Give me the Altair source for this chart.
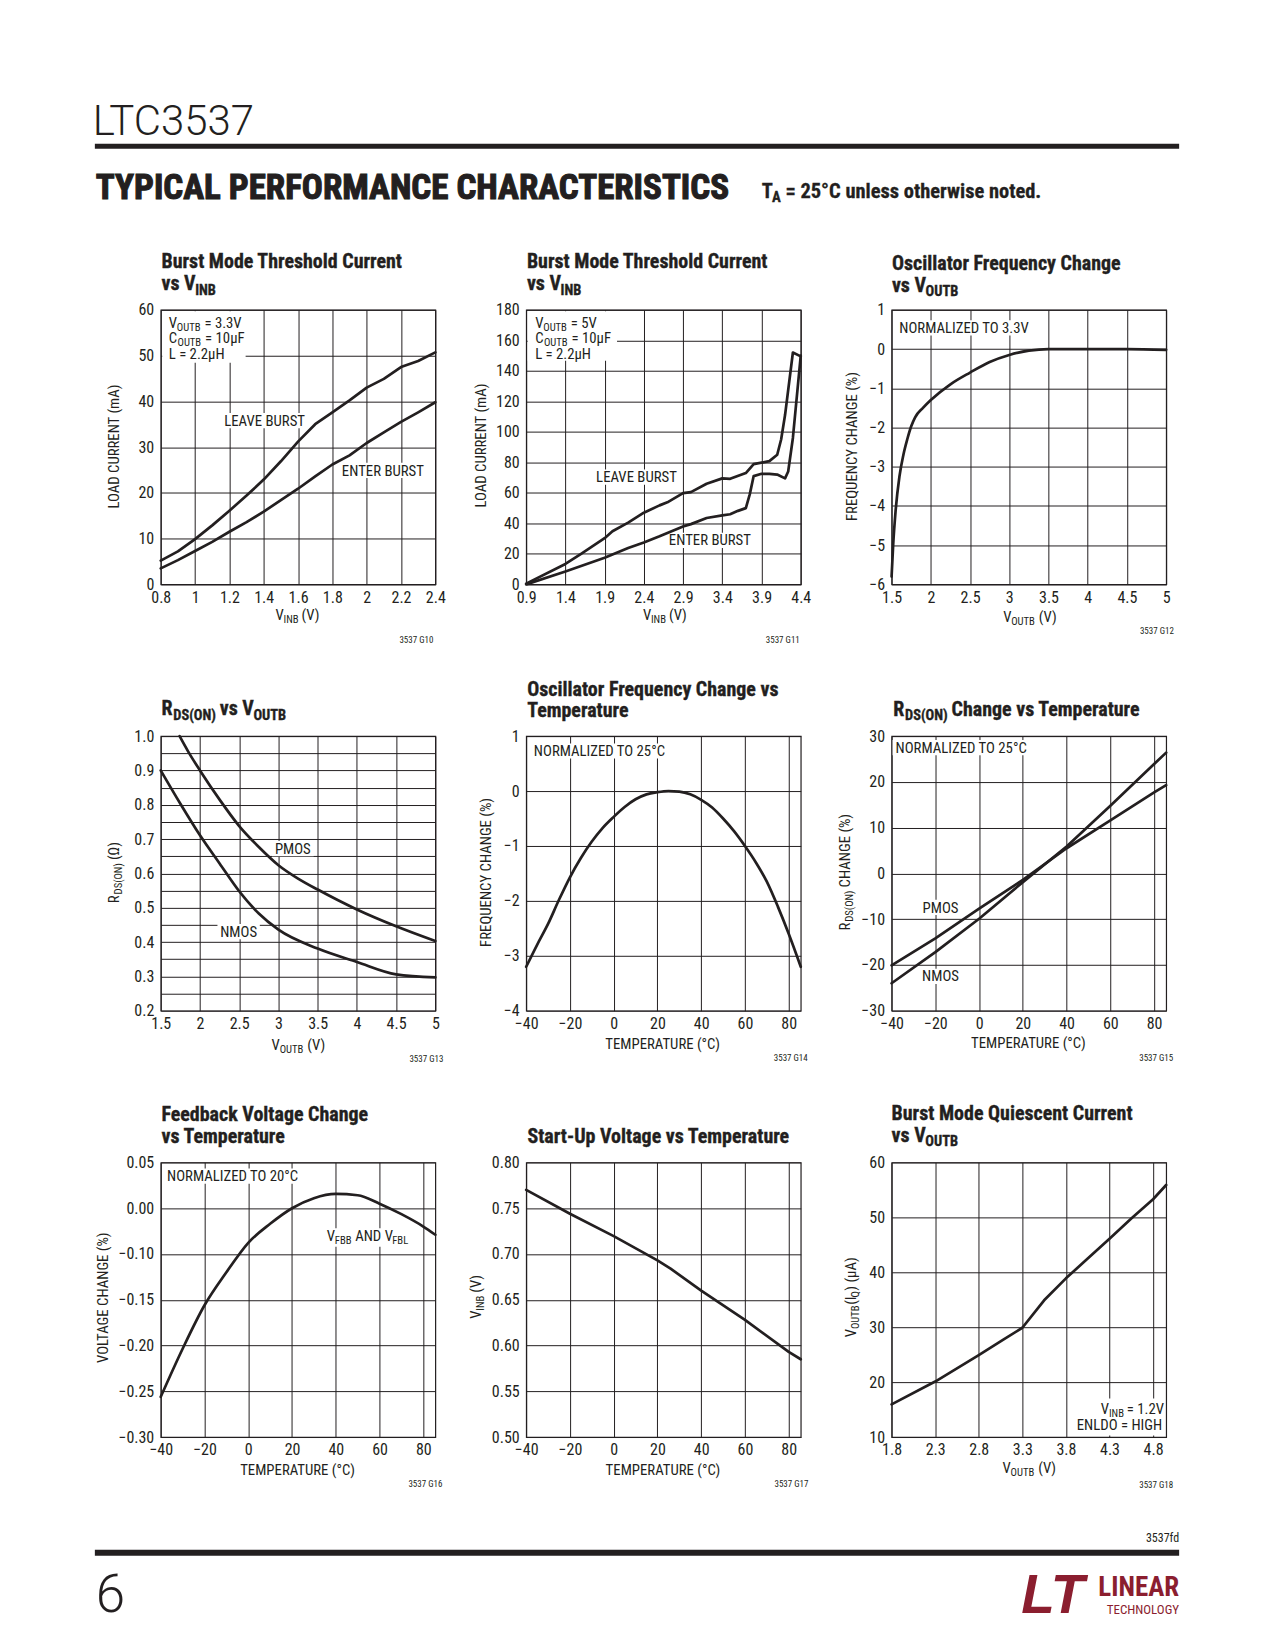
import re
import altair as alt
import pandas as pd

FONT = "Liberation Sans Narrow, Arial Narrow, Roboto Condensed, DejaVu Sans Condensed, sans-serif"
LIGHT = "Roboto, Liberation Sans, sans-serif"
INK = "#231F20"
LOGO = "#8B1E2F"
W, H = 275, 275

# ---------------- data ----------------
g10_x = [0.8, 0.9, 1.0, 1.1, 1.2, 1.3, 1.4, 1.5, 1.6, 1.7, 1.8, 1.9, 2.0, 2.1, 2.2, 2.3, 2.4]
g10_leave = [5.2, 7.2, 9.9, 12.9, 16.1, 19.4, 22.9, 26.9, 31.2, 35.0, 37.6, 40.2, 43.0, 44.9, 47.5, 48.8, 50.7]
g10_enter = [3.5, 5.3, 7.3, 9.3, 11.5, 13.6, 15.9, 18.4, 20.9, 23.6, 26.2, 28.2, 30.9, 33.2, 35.5, 37.6, 39.8]

g11_leave_x = [0.9, 1.4, 1.6, 1.9, 2.0, 2.2, 2.4, 2.6, 2.7, 2.9, 3.0, 3.2, 3.4, 3.5, 3.7, 3.8, 4.0, 4.1, 4.15, 4.2, 4.3, 4.4]
g11_leave = [0.5, 13.4, 20.0, 30.3, 34.8, 40.5, 47.0, 51.8, 53.8, 59.8, 60.5, 66.0, 69.5, 69.2, 73.0, 78.8, 80.8, 85.0, 95.0, 111.0, 152.0, 149.5]
g11_enter_x = [0.9, 1.4, 1.9, 2.2, 2.4, 2.6, 2.9, 3.0, 3.2, 3.4, 3.5, 3.6, 3.7, 3.75, 3.8, 3.9, 4.0, 4.1, 4.2, 4.24, 4.3, 4.4]
g11_enter = [0.0, 8.5, 17.5, 23.8, 27.5, 31.5, 38.0, 39.5, 43.5, 45.2, 46.0, 48.2, 50.0, 59.0, 71.0, 72.5, 72.5, 72.0, 69.5, 74.0, 96.0, 150.0]

g12_x = [1.5, 1.52, 1.55, 1.6, 1.65, 1.7, 1.75, 1.8, 1.9, 2.0, 2.25, 2.5, 2.75, 3.0, 3.25, 3.5, 4.0, 4.5, 5.0]
g12_y = [-5.8, -5.0, -4.15, -3.25, -2.7, -2.3, -1.97, -1.74, -1.5, -1.3, -0.9, -0.6, -0.33, -0.15, -0.04, 0.0, 0.0, 0.0, -0.02]

g13_pmos_x = [1.74, 1.85, 2.0, 2.25, 2.5, 2.75, 3.0, 3.25, 3.5, 4.0, 4.5, 5.0]
g13_pmos = [1.0, 0.955, 0.9, 0.815, 0.738, 0.677, 0.624, 0.585, 0.553, 0.495, 0.446, 0.403]
g13_nmos_x = [1.5, 1.75, 2.0, 2.25, 2.5, 2.75, 3.0, 3.5, 4.0, 4.5, 5.0]
g13_nmos = [0.9, 0.803, 0.711, 0.629, 0.548, 0.483, 0.436, 0.381, 0.342, 0.306, 0.297]

g14_x = [-40, -35, -30, -25, -20, -15, -10, -5, 0, 5, 10, 15, 20, 25, 30, 35, 40, 45, 50, 55, 60, 65, 70, 75, 80, 85.5]
g14_y = [-3.2, -2.8, -2.42, -1.98, -1.57, -1.22, -0.92, -0.67, -0.47, -0.29, -0.15, -0.06, -0.02, 0.0, -0.01, -0.06, -0.16, -0.3, -0.5, -0.73, -1.0, -1.3, -1.65, -2.1, -2.6, -3.2]

g15_x = [-40, -20, 0, 20, 40, 60, 80, 85.5]
g15_nmos = [-24.0, -17.2, -9.9, -1.9, 5.9, 14.8, 23.9, 26.4]
g15_pmos = [-20.1, -14.2, -7.7, -1.4, 5.5, 11.6, 17.7, 19.3]

g16_x = [-40, -30, -20, -10, 0, 10, 20, 30, 40, 50, 60, 70, 80, 85.5]
g16_y = [-0.256, -0.2035, -0.156, -0.12, -0.0756, -0.034, 0.0, 0.011, 0.0156, 0.0142, 0.005, -0.013, -0.040, -0.058]

g17_x = [-40, -20, 0, 20, 26, 40, 60, 80, 85.5]
g17_y = [0.770, 0.744, 0.7195, 0.693, 0.684, 0.660, 0.628, 0.593, 0.585]

g18_x = [1.8, 2.3, 2.8, 3.1, 3.3, 3.55, 3.8, 4.05, 4.3, 4.55, 4.8, 4.95]
g18_y = [15.95, 20.1, 24.9, 27.9, 29.9, 34.9, 38.9, 42.5, 46.1, 49.8, 53.3, 55.9]

# tick values
t_g10_x = [0.8, 1.0, 1.2, 1.4, 1.6, 1.8, 2.0, 2.2, 2.4]
t_g10_y = [0, 10, 20, 30, 40, 50, 60]
t_g11_x = [0.9, 1.4, 1.9, 2.4, 2.9, 3.4, 3.9, 4.4]
t_g11_y = [0, 20, 40, 60, 80, 100, 120, 140, 160, 180]
t_volt_x = [1.5, 2.0, 2.5, 3.0, 3.5, 4.0, 4.5, 5.0]
t_g12_y = [-6, -5, -4, -3, -2, -1, 0, 1]
t_g13_y = [0.2, 0.25, 0.3, 0.35, 0.4, 0.45, 0.5, 0.55, 0.6, 0.65, 0.7, 0.75, 0.8, 0.85, 0.9, 0.95, 1.0]
t_temp_x = [-40, -20, 0, 20, 40, 60, 80]
t_g14_y = [-4, -3, -2, -1, 0, 1]
t_g15_y = [-30, -20, -10, 0, 10, 20, 30]
t_g16_y = [-0.30, -0.25, -0.20, -0.15, -0.10, 0.00, 0.05]
t_g17_y = [0.50, 0.55, 0.60, 0.65, 0.70, 0.75, 0.80]
t_g18_x = [1.8, 2.3, 2.8, 3.3, 3.8, 4.3, 4.8]
t_g18_y = [10, 20, 30, 40, 50, 60]

# ---------------- text helpers ----------------
_REG = dict(zip("ABCDEFGHIJKLMNOPQRSTUVWXYZ", [667, 667, 722, 722, 667, 611, 778, 722, 278, 500, 667, 556, 833, 722, 778, 667, 778, 722, 667, 611, 722, 667, 944, 667, 667, 611]))
_REG.update(zip("abcdefghijklmnopqrstuvwxyz", [556, 556, 500, 556, 556, 278, 556, 556, 222, 222, 500, 222, 833, 556, 556, 556, 556, 333, 500, 278, 556, 500, 722, 500, 500, 500]))
_REG.update({c: 556 for c in "0123456789"})
_REG.update({" ": 278, "(": 333, ")": 333, ".": 278, ",": 278, "=": 584, "°": 400, "μ": 556, "Ω": 768, "-": 333, "%": 889})
_BOLD = dict(zip("ABCDEFGHIJKLMNOPQRSTUVWXYZ", [722, 722, 722, 722, 667, 611, 778, 722, 278, 556, 722, 611, 833, 722, 778, 667, 778, 722, 667, 611, 722, 667, 944, 667, 667, 611]))
_BOLD.update(zip("abcdefghijklmnopqrstuvwxyz", [556, 611, 556, 611, 556, 333, 611, 611, 278, 278, 556, 278, 889, 611, 611, 611, 611, 389, 556, 333, 611, 556, 778, 556, 556, 500]))
_BOLD.update({c: 556 for c in "0123456789"})
_BOLD.update({" ": 278, "(": 333, ")": 333, ".": 278, ",": 278, "=": 584, "°": 400, "μ": 611, "Ω": 768, "-": 333, "%": 889})
NARROW = 0.82
SUBR = 0.72
SUBOFF = 0.21
TITLE, AXT, ANN, FIG, TICK = 20, 14.8, 14.8, 9, 16

ONE = alt.InlineData(values=[{"k": 0}])


def tw(s, size, bold=False):
    t = _BOLD if bold else _REG
    return sum(t.get(c, 556) for c in s) / 1000.0 * NARROW * size


def parse(s):
    out, pos = [], 0
    for m in re.finditer(r"_\{([^}]*)\}", s):
        if m.start() > pos:
            out.append((s[pos:m.start()], False))
        out.append((m.group(1), True))
        pos = m.end()
    if pos < len(s):
        out.append((s[pos:], False))
    return out


def width(s, size, bold=False):
    return sum(tw(t, size * SUBR if sub else size, bold) for t, sub in parse(s))


def rich(s, x, y, size, bold=False, align="left", angle=0, color=INK, font=FONT, italic=False,
         weight=None, stroke=0.0):
    segs = parse(s)
    out = []

    def mk(t, sz, al, px, py):
        kw = dict(text=t, align=al, baseline="alphabetic", fontSize=round(sz, 2), font=font,
                  color=color, fontWeight=weight if weight else ("bold" if bold else "normal"))
        if angle:
            kw["angle"] = angle
        if italic:
            kw["fontStyle"] = "italic"
        if stroke:
            kw["stroke"] = color
            kw["strokeWidth"] = stroke
        return alt.Chart(ONE).mark_text(**kw).encode(x=alt.value(round(px, 2)), y=alt.value(round(py, 2)))

    if len(segs) == 1 and not segs[0][1]:
        return [mk(segs[0][0], size, align, x, y)]
    ws = [tw(t, size * SUBR if sub else size, bold) for t, sub in segs]
    total = sum(ws)
    pos = {"left": 0.0, "center": -total / 2, "right": -total}[align]
    for (t, sub), w in zip(segs, ws):
        sz = size * SUBR if sub else size
        off = size * SUBOFF if sub else 0.0
        # Vega trims text, so leading spaces become a position shift instead
        lead = len(t) - len(t.lstrip(" "))
        shift = tw(" " * lead, sz, bold)
        body = t.strip(" ")
        if body:
            if angle:
                px, py = x + off, y - (pos + shift)
            else:
                px, py = x + pos + shift, y + off
            out.append(mk(body, sz, "left", px, py))
        pos += w
    return out


def box(x0, y0, x1, y1, color="white", opacity=1.0):
    return alt.Chart(ONE).mark_rect(color=color, opacity=opacity).encode(
        x=alt.value(x0), x2=alt.value(x1), y=alt.value(y0), y2=alt.value(y1))


def label_box(s, x, y, size=ANN, align="left"):
    w = width(s, size)
    left = {"left": x, "center": x - w / 2, "right": x - w}[align]
    has_sub = any(sub for _, sub in parse(s))
    return box(left - 3, y - 0.76 * size - 1.5, left + w + 3, y + 2.5 + (SUBOFF * size if has_sub else 0))


def axis(values, fmt, pad, expr=None):
    kw = dict(values=values, format=fmt, grid=True, gridColor=INK, gridWidth=1, gridOpacity=1,
              ticks=False, domain=False, labelFont=FONT, labelFontSize=TICK, labelColor=INK,
              labelPadding=pad, labelOverlap=False, labelFlush=False, title=None)
    if expr:
        kw["labelExpr"] = expr
    return alt.Axis(**kw)


def curve(df, xdom, xvals, xfmt, ydom, yvals, yfmt, yrange=None, yexpr=None, smooth=False):
    if yrange is None:
        ys = alt.Scale(domain=ydom, nice=False, zero=False)
    else:
        ys = alt.Scale(domain=ydom, range=yrange, nice=False, zero=False)
    mk = dict(color=INK, strokeWidth=2.7, strokeJoin="round", strokeCap="round")
    if smooth:
        mk["interpolate"] = "monotone"
    return alt.Chart(df).mark_line(**mk).encode(
        x=alt.X("x:Q", scale=alt.Scale(domain=xdom, nice=False, zero=False), axis=axis(xvals, xfmt, 5)),
        y=alt.Y("y:Q", scale=ys, axis=axis(yvals, yfmt, 7, yexpr)),
        detail="s:N",
    )


def series(pairs):
    rows = []
    for name, xs, ys in pairs:
        rows += [{"x": a, "y": b, "s": name} for a, b in zip(xs, ys)]
    return pd.DataFrame(rows)


def panel(line, titles, ytitle, xtitle, fig, boxes=(), notes=(), labels=(), extra_back=(), extra_front=()):
    back = list(extra_back) + list(boxes)
    front = []
    for s, x, y, al in labels:
        back.append(label_box(s, x, y, ANN, al))
        front += rich(s, x, y, ANN, align=al)
    for s, x, y, al in notes:
        front += rich(s, x, y, ANN, align=al)
    for s, x, y in titles:
        front += rich(s, x, y, TITLE, bold=True, stroke=0.35)
    front += rich(ytitle[0], ytitle[1], ytitle[2], AXT, align="center", angle=270)
    front += rich(xtitle[0], xtitle[1], xtitle[2], AXT, align="center")
    front += rich(fig[0], fig[1], fig[2], FIG, align="right")
    front += list(extra_front)
    return alt.layer(*back, line, *front).properties(width=W, height=H)


# ---------------- page header / footer (attached to first panel) ----------------
page_back = [box(-152, -300, 1107, 1332, color="white", opacity=0)]
page_front = []
page_front += rich("LTC3537", -68, -174.7, 42, font=LIGHT, weight=300)
page_front.append(box(-66, -166.3, 1020, -161.3, color=INK))
page_front += rich("TYPICAL PERFORMANCE CHARACTERISTICS", -65, -111.3, 35, bold=True, stroke=1.1)
page_front += rich("T_{A} = 25°C unless otherwise noted.", 602, -112, 20.5, bold=True, stroke=0.3)
page_front += rich("3537fd", 1020, 1234, 12, align="right")
page_front.append(box(-66, 1242, 1020, 1248, color=INK))
page_front += rich("6", -65, 1304, 53, font=LIGHT, weight=300)
page_front += rich("LT", 925, 1305, 55, bold=True, italic=True, color=LOGO, align="right",
                   font="Liberation Sans, Arial, sans-serif")
page_front += rich("LINEAR", 1020, 1288.5, 27, bold=True, color=LOGO, align="right")
page_front += rich("TECHNOLOGY", 1020, 1306, 13, color=LOGO, align="right")

panels = []

# G10
panels.append(panel(
    curve(series([("leave", g10_x, g10_leave), ("enter", g10_x, g10_enter)]),
          [0.8, 2.4], t_g10_x, "~g", [0, 60], t_g10_y, "d"),
    titles=[("Burst Mode Threshold Current", 0.7, -42.3), ("vs V_{INB}", 0.7, -19.5)],
    ytitle=("LOAD CURRENT (mA)", -41.5, 137),
    xtitle=("V_{INB} (V)", 136, 311),
    fig=("3537 G10", 273, 334),
    boxes=[box(1.5, 1.5, 85, 53)],
    notes=[("V_{OUTB} = 3.3V", 8, 17.8, "left"), ("C_{OUTB} = 10μF", 8, 32.8, "left"), ("L = 2.2μH", 8, 49.2, "left")],
    labels=[("LEAVE BURST", 104, 116, "center"), ("ENTER BURST", 222.5, 166, "center")],
    extra_back=page_back, extra_front=page_front,
))

# G11
panels.append(panel(
    curve(series([("leave", g11_leave_x, g11_leave), ("enter", g11_enter_x, g11_enter)]),
          [0.9, 4.4], t_g11_x, ".1f", [0, 180], t_g11_y, "d"),
    titles=[("Burst Mode Threshold Current", 0.7, -42.3), ("vs V_{INB}", 0.7, -19.5)],
    ytitle=("LOAD CURRENT (mA)", -40.7, 136),
    xtitle=("V_{INB} (V)", 138, 311),
    fig=("3537 G11", 274, 334),
    boxes=[box(1.5, 1.5, 91, 51)],
    notes=[("V_{OUTB} = 5V", 9, 17.8, "left"), ("C_{OUTB} = 10μF", 9, 32.8, "left"), ("L = 2.2μH", 9, 49.2, "left")],
    labels=[("LEAVE BURST", 110.5, 172.7, "center"), ("ENTER BURST", 184, 236, "center")],
))

# G12
panels.append(panel(
    curve(series([("f", g12_x, g12_y)]), [1.5, 5.0], t_volt_x, "~g", [-6, 1], t_g12_y, "d", smooth=True),
    titles=[("Oscillator Frequency Change", 0.3, -40), ("vs V_{OUTB}", 0.3, -18.3)],
    ytitle=("FREQUENCY CHANGE (%)", -34.7, 137),
    xtitle=("V_{OUTB} (V)", 137.7, 313),
    fig=("3537 G12", 282.7, 325),
    labels=[("NORMALIZED TO 3.3V", 7.7, 23.3, "left")],
))

# G13
panels.append(panel(
    curve(series([("pmos", g13_pmos_x, g13_pmos), ("nmos", g13_nmos_x, g13_nmos)]),
          [1.5, 5.0], t_volt_x, "~g", [0.2, 1.0], t_g13_y, ".1f",
          yexpr="round(datum.value*100) % 10 == 0 ? format(datum.value, '.1f') : ''", smooth=True),
    titles=[("R_{DS(ON)} vs V_{OUTB}", 0.7, -20.7)],
    ytitle=("R_{DS(ON)} (Ω)", -42, 137),
    xtitle=("V_{OUTB} (V)", 137, 314),
    fig=("3537 G13", 283, 326),
    labels=[("PMOS", 132.3, 117.7, "center"), ("NMOS", 78, 201, "center")],
))

# G14
panels.append(panel(
    curve(series([("f", g14_x, g14_y)]), [-40, 85.5], t_temp_x, "d", [-4, 1], t_g14_y, "d", smooth=True),
    titles=[("Oscillator Frequency Change vs", 1, -40.7), ("Temperature", 1, -19)],
    ytitle=("FREQUENCY CHANGE (%)", -35.3, 136.5),
    xtitle=("TEMPERATURE (°C)", 136.7, 313),
    fig=("3537 G14", 282, 325),
    labels=[("NORMALIZED TO 25°C", 7.7, 20, "left")],
))

# G15
panels.append(panel(
    curve(series([("nmos", g15_x, g15_nmos), ("pmos", g15_x, g15_pmos)]),
          [-40, 85.5], t_temp_x, "d", [-30, 30], t_g15_y, "d"),
    titles=[("R_{DS(ON)} Change vs Temperature", 1.7, -20)],
    ytitle=("R_{DS(ON)} CHANGE (%)", -42, 136),
    xtitle=("TEMPERATURE (°C)", 137, 312),
    fig=("3537 G15", 282, 325),
    labels=[("NORMALIZED TO 25°C", 4, 16.7, "left"), ("PMOS", 49, 176.7, "center"), ("NMOS", 49, 245.7, "center")],
))

# G16 (the printed axis skips -0.05, so the scale is piecewise to match its labels)
panels.append(panel(
    curve(series([("v", g16_x, g16_y)]), [-40, 85.5], t_temp_x, "d",
          [-0.30, -0.10, 0.00, 0.05], t_g16_y, ".2f", yrange=[H, H * 2 / 6, H / 6, 0], smooth=True),
    titles=[("Feedback Voltage Change", 0.7, -41.3), ("vs Temperature", 0.7, -19)],
    ytitle=("VOLTAGE CHANGE (%)", -53.3, 135.5),
    xtitle=("TEMPERATURE (°C)", 137, 312.7),
    fig=("3537 G16", 282, 325),
    labels=[("NORMALIZED TO 20°C", 6.3, 18.7, "left"), ("V_{FBB} AND V_{FBL}", 166.3, 78.7, "left")],
))

# G17
panels.append(panel(
    curve(series([("v", g17_x, g17_y)]), [-40, 85.5], t_temp_x, "d", [0.5, 0.8], t_g17_y, ".2f"),
    titles=[("Start-Up Voltage vs Temperature", 1.3, -19)],
    ytitle=("V_{INB} (V)", -45.5, 135.5),
    xtitle=("TEMPERATURE (°C)", 137, 312.7),
    fig=("3537 G17", 282.7, 325),
))

# G18
panels.append(panel(
    curve(series([("i", g18_x, g18_y)]), [1.8, 4.95], t_g18_x, ".1f", [10, 60], t_g18_y, "d"),
    titles=[("Burst Mode Quiescent Current", 0, -43), ("vs V_{OUTB}", 0, -20.7)],
    ytitle=("V_{OUTB}(I_{Q}) (μA)", -35.5, 136.5),
    xtitle=("V_{OUTB} (V)", 137, 311),
    fig=("3537 G18", 282, 326),
    boxes=[box(183.7, 236.5, 273.5, 273.5)],
    notes=[("V_{INB} = 1.2V", 271, 251.5, "right"), ("ENLDO = HIGH", 271, 268.3, "right")],
))

chart = alt.concat(
    *panels, columns=3, spacing={"row": 152, "column": 91}, bounds="flush"
).properties(padding=0, background="white").configure_view(stroke=INK, strokeWidth=1.2)

chart.save("out.html", embed_options={"renderer": "svg", "actions": False})
